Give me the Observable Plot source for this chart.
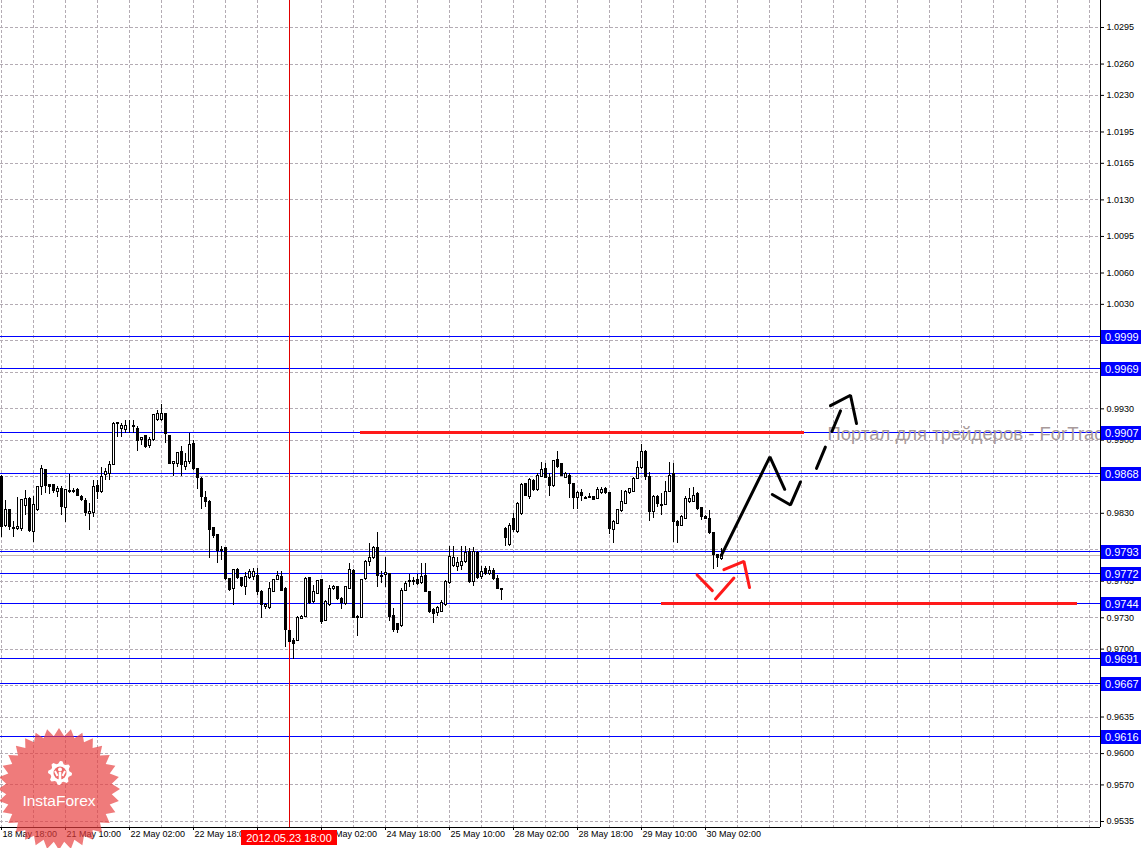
<!DOCTYPE html>
<html>
<head>
<meta charset="utf-8">
<script src="https://cdn.jsdelivr.net/npm/d3@7"></script>
<script src="https://cdn.jsdelivr.net/npm/@observablehq/plot@0.6"></script>
<style>
html, body { margin: 0; padding: 0; background: #ffffff; overflow: hidden; }
#chart { width: 1143px; height: 848px; overflow: hidden; }
#chart svg { max-width: none !important; }
</style>
</head>
<body>
<div id="chart"></div>
<script>
// ---------- DATA (H1 bars, 18 May 18:00 -> 30 May 06:00, 2012) ----------
const barOpen = [
0.9865,0.9818,0.9833,0.9815,0.9815,0.9815,0.9837,0.9844,0.9812,0.9833,
0.9855,0.9871,0.9857,0.9857,0.9850,0.9853,0.9835,0.9851,0.9850,0.9852,
0.9846,0.9842,0.9829,0.9830,0.9856,0.9850,0.9867,0.9868,0.9876,0.9915,
0.9911,0.9910,0.9914,0.9914,0.9911,0.9900,0.9904,0.9894,0.9900,0.9919,
0.9919,0.9925,0.9904,0.9877,0.9877,0.9889,0.9874,0.9879,0.9896,0.9872,
0.9863,0.9845,0.9841,0.9816,0.9809,0.9795,0.9797,0.9767,0.9758,0.9776,
0.9768,0.9759,0.9768,0.9769,0.9770,0.9755,0.9740,0.9739,0.9755,0.9766,
0.9769,0.9758,0.9717,0.9708,0.9708,0.9729,0.9731,0.9768,0.9745,0.9753,
0.9766,0.9727,0.9742,0.9758,0.9759,0.9748,0.9743,0.9758,0.9775,0.9730,
0.9730,0.9767,0.9783,0.9787,0.9797,0.9770,0.9771,0.9772,0.9732,0.9724,
0.9722,0.9756,0.9764,0.9765,0.9766,0.9763,0.9770,0.9755,0.9737,0.9735,
0.9736,0.9742,0.9763,0.9780,0.9779,0.9780,0.9783,0.9793,0.9764,0.9792,
0.9769,0.9777,0.9772,0.9775,0.9767,0.9758,0.9815,0.9800,0.9825,0.9812,
0.9829,0.9858,0.9846,0.9861,0.9852,0.9865,0.9872,0.9864,0.9856,0.9881,
0.9877,0.9864,0.9866,0.9858,0.9845,0.9849,0.9845,0.9845,0.9846,0.9844,
0.9849,0.9853,0.9849,0.9814,0.9820,0.9832,0.9839,0.9849,0.9850,0.9863,
0.9873,0.9889,0.9865,0.9831,0.9846,0.9838,0.9838,0.9850,0.9868,0.9822,
0.9818,0.9825,0.9841,0.9841,0.9848,0.9835,0.9826,0.9825,0.9811,0.9790,
0.9786];
const barHigh = [
0.9866,0.9842,0.9834,0.9822,0.9845,0.9843,0.9852,0.9845,0.9846,0.9856,
0.9876,0.9872,0.9857,0.9857,0.9856,0.9856,0.9853,0.9867,0.9854,0.9854,
0.9847,0.9844,0.9839,0.9861,0.9861,0.9874,0.9873,0.9880,0.9917,0.9917,
0.9916,0.9919,0.9919,0.9919,0.9913,0.9903,0.9904,0.9903,0.9925,0.9928,
0.9934,0.9926,0.9904,0.9880,0.9888,0.9894,0.9887,0.9906,0.9900,0.9872,
0.9864,0.9851,0.9842,0.9816,0.9809,0.9798,0.9797,0.9767,0.9776,0.9777,
0.9769,0.9773,0.9776,0.9777,0.9777,0.9756,0.9744,0.9764,0.9767,0.9774,
0.9774,0.9759,0.9718,0.9710,0.9731,0.9732,0.9769,0.9769,0.9761,0.9766,
0.9767,0.9747,0.9761,0.9761,0.9760,0.9749,0.9760,0.9782,0.9776,0.9732,
0.9767,0.9785,0.9801,0.9798,0.9812,0.9774,0.9788,0.9772,0.9739,0.9725,
0.9758,0.9765,0.9771,0.9769,0.9771,0.9782,0.9782,0.9755,0.9739,0.9741,
0.9747,0.9766,0.9798,0.9798,0.9788,0.9798,0.9798,0.9796,0.9797,0.9793,
0.9779,0.9779,0.9779,0.9777,0.9770,0.9758,0.9816,0.9820,0.9830,0.9840,
0.9859,0.9859,0.9863,0.9862,0.9868,0.9879,0.9878,0.9868,0.9881,0.9889,
0.9878,0.9869,0.9868,0.9859,0.9851,0.9853,0.9846,0.9849,0.9846,0.9855,
0.9855,0.9855,0.9850,0.9823,0.9834,0.9852,0.9852,0.9854,0.9864,0.9880,
0.9896,0.9890,0.9869,0.9847,0.9847,0.9849,0.9860,0.9879,0.9878,0.9823,
0.9828,0.9846,0.9854,0.9855,0.9850,0.9836,0.9828,0.9833,0.9811,0.9791,
0.9796];
const barLow = [
0.9807,0.9816,0.9814,0.9807,0.9814,0.9813,0.9828,0.9812,0.9802,0.9832,
0.9847,0.9849,0.9848,0.9849,0.9845,0.9828,0.9821,0.9849,0.9849,0.9846,
0.9841,0.9827,0.9814,0.9826,0.9843,0.9849,0.9861,0.9861,0.9876,0.9903,
0.9903,0.9906,0.9906,0.9906,0.9889,0.9895,0.9892,0.9892,0.9899,0.9918,
0.9918,0.9897,0.9877,0.9865,0.9874,0.9865,0.9871,0.9877,0.9871,0.9853,
0.9834,0.9836,0.9787,0.9806,0.9782,0.9785,0.9766,0.9755,0.9742,0.9767,
0.9759,0.9751,0.9767,0.9766,0.9751,0.9729,0.9738,0.9738,0.9754,0.9766,
0.9755,0.9702,0.9706,0.9690,0.9707,0.9728,0.9730,0.9743,0.9744,0.9752,
0.9724,0.9726,0.9741,0.9756,0.9747,0.9738,0.9742,0.9757,0.9729,0.9712,
0.9729,0.9766,0.9779,0.9786,0.9759,0.9763,0.9759,0.9726,0.9716,0.9715,
0.9721,0.9755,0.9759,0.9761,0.9761,0.9762,0.9754,0.9734,0.9725,0.9731,
0.9735,0.9741,0.9762,0.9778,0.9774,0.9775,0.9782,0.9763,0.9760,0.9767,
0.9767,0.9770,0.9770,0.9766,0.9757,0.9747,0.9798,0.9798,0.9812,0.9811,
0.9828,0.9846,0.9843,0.9851,0.9851,0.9865,0.9863,0.9846,0.9855,0.9873,
0.9865,0.9863,0.9844,0.9834,0.9834,0.9841,0.9843,0.9844,0.9842,0.9843,
0.9848,0.9848,0.9810,0.9801,0.9819,0.9831,0.9838,0.9848,0.9850,0.9862,
0.9872,0.9861,0.9822,0.9825,0.9836,0.9828,0.9838,0.9850,0.9802,0.9801,
0.9817,0.9824,0.9839,0.9840,0.9833,0.9823,0.9824,0.9810,0.9776,0.9778,
0.9785];
const barClose = [
0.9817,0.9833,0.9817,0.9816,0.9817,0.9843,0.9844,0.9813,0.9838,0.9855,
0.9872,0.9856,0.9855,0.9851,0.9853,0.9836,0.9852,0.9850,0.9851,0.9847,
0.9843,0.9830,0.9831,0.9855,0.9850,0.9865,0.9870,0.9876,0.9915,0.9916,
0.9914,0.9914,0.9914,0.9913,0.9899,0.9902,0.9893,0.9900,0.9924,0.9925,
0.9925,0.9906,0.9877,0.9879,0.9888,0.9876,0.9879,0.9895,0.9872,0.9864,
0.9846,0.9841,0.9814,0.9808,0.9794,0.9794,0.9767,0.9757,0.9776,0.9768,
0.9760,0.9769,0.9774,0.9774,0.9755,0.9742,0.9742,0.9758,0.9766,0.9770,
0.9756,0.9718,0.9707,0.9705,0.9730,0.9731,0.9767,0.9744,0.9755,0.9765,
0.9726,0.9745,0.9758,0.9759,0.9748,0.9744,0.9759,0.9776,0.9730,0.9731,
0.9766,0.9783,0.9787,0.9797,0.9770,0.9769,0.9773,0.9731,0.9718,0.9718,
0.9756,0.9762,0.9765,0.9764,0.9762,0.9769,0.9755,0.9736,0.9734,0.9739,
0.9744,0.9764,0.9788,0.9787,0.9782,0.9783,0.9792,0.9764,0.9793,0.9768,
0.9774,0.9772,0.9775,0.9767,0.9758,0.9757,0.9806,0.9818,0.9814,0.9839,
0.9857,0.9847,0.9862,0.9852,0.9866,0.9871,0.9864,0.9856,0.9880,0.9874,
0.9866,0.9868,0.9858,0.9845,0.9849,0.9847,0.9844,0.9846,0.9843,0.9852,
0.9852,0.9849,0.9815,0.9822,0.9833,0.9841,0.9850,0.9853,0.9863,0.9873,
0.9889,0.9865,0.9831,0.9846,0.9839,0.9837,0.9850,0.9866,0.9822,0.9818,
0.9826,0.9844,0.9844,0.9847,0.9834,0.9826,0.9825,0.9811,0.9790,0.9787,
0.9790];

// time axis: one bar per hour, a label every 16 bars
const xTickBars = [0, 16, 32, 48, 64, 80, 96, 112, 128, 144, 160, 176];
const xTickLabels = ["18 May 18:00", "21 May 10:00", "22 May 02:00", "22 May 18:00",
  "23 May 10:00", "24 May 02:00", "24 May 18:00", "25 May 10:00",
  "28 May 02:00", "28 May 18:00", "29 May 10:00", "30 May 02:00"];
const xGridBars = [0,8,16,24,32,40,48,56,64,72,80,88,96,104,112,120,128,136,144,152,160,
  168,176,184,192,200,208,216,224,232,240,248,256,264,272];

// price axis
const yTicks = [1.0295, 1.0260, 1.0230, 1.0195, 1.0165, 1.0130, 1.0095, 1.0060, 1.0030,
  0.9995, 0.9965, 0.9930, 0.9900, 0.9865, 0.9830, 0.9795, 0.9765, 0.9730, 0.9700,
  0.9665, 0.9635, 0.9600, 0.9570, 0.9535];

// horizontal levels (blue lines with labels)
const levelPrices = [0.9999, 0.9969, 0.9907, 0.9868, 0.9793, 0.9772, 0.9744, 0.9691, 0.9667, 0.9616];
const bidPrice = 0.9790;

// red zone lines
const zonePrices = [0.9907, 0.9744];
const zoneFromBar = [89.75, 165];
const zoneToBar = [200.75, 268.9];

// vertical marker
const markerBar = 72;
const markerLabel = "2012.05.23 18:00";

// hand-drawn forecast strokes (bar index, price)
const strokeGroup = ["up","up","up", "v","v","v", "dash","dash", "head","head","head",
  "r1","r1", "r2","r2", "rh","rh","rh"];
const strokeBar = [180, 192.1, 195.8, 192.7, 197.25, 199.75, 203.75, 209.75, 207.25, 212.25, 213.75,
  173.9, 177.7, 178.5, 183.1, 180.6, 185.6, 187.0];
const strokePrice = [0.9790, 0.9884, 0.9853, 0.9848, 0.9838, 0.9860, 0.9873, 0.9928, 0.9933, 0.9943, 0.9916,
  0.9771, 0.9756, 0.9748, 0.9768, 0.9776, 0.9784, 0.9759];

const watermark = "Портал для трейдеров - ForTrader.ru";
const watermarkBar = 206.5;
const watermarkPrice = 0.9906;

// ---------- BUILD ----------
const bars = barOpen.map((o, i) => ({ i, open: o, high: barHigh[i], low: barLow[i], close: barClose[i] }));
// labels hidden entirely behind the marker's date box are not drawn
const xTicksData = xTickBars.map((b, k) => ({ b, label: xTickLabels[k] }))
  .filter(d => !(d.b > markerBar - 12 && d.b < markerBar + 4));
const zones = zonePrices.map((p, k) => ({ p, x1: zoneFromBar[k], x2: zoneToBar[k] }));
const strokes = strokeBar.map((b, k) => ({ g: strokeGroup[k], b, p: strokePrice[k] }));
const blackSolid = strokes.filter(d => d.g === "up" || d.g === "v" || d.g === "head");
const blackDash = strokes.filter(d => d.g === "dash");
const redStrokes = strokes.filter(d => d.g[0] === "r");

const xDomain = [-0.25, 274.75];
const yDomain = [0.952926, 1.032084];
const gridColor = "#b4acb4";
const FONT = "'Liberation Sans', Arial, sans-serif";

const chart = Plot.plot({
  width: 1143,
  height: 848,
  marginLeft: 0,
  marginRight: 43,
  marginTop: 0,
  marginBottom: 21,
  style: { fontFamily: FONT, fontSize: "9px", background: "#ffffff", color: "#000", maxWidth: "none" },
  x: { domain: xDomain, axis: "bottom", ticks: xTickBars, tickFormat: () => "", tickSize: 3, label: null },
  y: { domain: yDomain, axis: "right", ticks: yTicks,
       tickFormat: d => levelPrices.some(l => Math.abs(l - d) < 0.0005) ? "" : d.toFixed(4),
       tickSize: 3, tickPadding: 3, label: null },
  marks: [
    Plot.ruleY(yTicks, { stroke: gridColor, strokeDasharray: "3,2", shapeRendering: "crispEdges" }),
    Plot.ruleX(xGridBars, { stroke: gridColor, strokeDasharray: "3,2", shapeRendering: "crispEdges" }),
    Plot.ruleY(levelPrices, { stroke: "#0000ff", shapeRendering: "crispEdges" }),
    Plot.ruleY([bidPrice], { stroke: "#c8b8b0", shapeRendering: "crispEdges" }),
    Plot.ruleX([markerBar], { stroke: "#e00000", shapeRendering: "crispEdges" }),
    Plot.ruleY(zones, { y: "p", x1: "x1", x2: "x2", stroke: "#ff1a1a", strokeWidth: 3, shapeRendering: "crispEdges" }),
    Plot.text([watermark], { x: watermarkBar, y: watermarkPrice, text: d => d, textAnchor: "start",
      fill: "#a89a9a", fontSize: 18.5, clip: true }),
    Plot.ruleX(bars, { x: "i", y1: "low", y2: "high", stroke: "#000", shapeRendering: "crispEdges" }),
    Plot.rect(bars, { x1: d => d.i - 0.25, x2: d => d.i + 0.25, y1: "open", y2: "close",
      fill: d => d.close > d.open ? "#ffffff" : "#000000", stroke: "#000", strokeWidth: 1, shapeRendering: "crispEdges" }),
    Plot.line(blackSolid, { x: "b", y: "p", z: "g", stroke: "#000", strokeWidth: 3, strokeLinejoin: "miter" }),
    Plot.line(blackDash, { x: "b", y: "p", stroke: "#000", strokeWidth: 3, strokeDasharray: "23,17" }),
    Plot.line(redStrokes, { x: "b", y: "p", z: "g", stroke: "#ff1a1a", strokeWidth: 3, strokeLinejoin: "miter" }),
    Plot.ruleX([xDomain[1]], { stroke: "#000", shapeRendering: "crispEdges" }),
    Plot.ruleY([yDomain[0]], { stroke: "#000", shapeRendering: "crispEdges" }),
    Plot.text(xTicksData, { x: "b", text: "label", frameAnchor: "bottom", dy: 9, dx: 1, textAnchor: "start", fill: "#000", fontSize: 9 })
  ]
});

document.getElementById("chart").appendChild(chart);

// ---------- overlays positioned with the plot's own scales ----------
const sx = chart.scale("x");
const sy = chart.scale("y");
const svg = d3.select(chart);

// price level labels on the right axis
const lab = svg.append("g").attr("text-anchor", "start");
levelPrices.forEach(p => {
  const y = Math.round(sy.apply(p));
  lab.append("rect").attr("x", 1101).attr("y", y - 6).attr("width", 40).attr("height", 14).attr("fill", "#0000ff");
  lab.append("text").attr("x", 1105).attr("y", y + 5).attr("fill", "#ffffff").attr("text-anchor", "start")
    .attr("font-family", FONT).attr("font-size", 11).text(p.toFixed(4));
});

// vertical marker date label
const mx = sx.apply(markerBar);
svg.append("rect").attr("x", mx - 48).attr("y", 830).attr("width", 96).attr("height", 15).attr("fill", "#ff0000");
svg.append("text").attr("x", mx).attr("y", 842).attr("text-anchor", "middle").attr("fill", "#fff")
  .attr("font-family", FONT).attr("font-size", 11).text(markerLabel);

// InstaForex badge
const logo = svg.append("g").attr("transform", "translate(59,789)");
const n = 32, R = 61, r = 53;
const pts = d3.range(2 * n).map(k => {
  const a = k * Math.PI / n - Math.PI / 2;
  const rr = k % 2 ? r : R;
  return [rr * Math.cos(a), rr * Math.sin(a)];
});
logo.append("polygon").attr("points", pts.map(p => p.join(",")).join(" ")).attr("fill", "#e83c3c").attr("fill-opacity", 0.68);
const gear = logo.append("g").attr("transform", "translate(1,-16)");
const gn = 8;
const gpts = [];
for (let k = 0; k < gn * 4; k++) {
  const a = k * Math.PI * 2 / (gn * 4) - Math.PI / 2;
  const rr = (Math.floor(k / 2) % 2 === 0) ? 12 : 9.5;
  gpts.push([rr * Math.cos(a), rr * Math.sin(a)]);
}
gear.append("polygon").attr("points", gpts.map(p => p.join(",")).join(" ")).attr("fill", "#fff");
gear.append("circle").attr("r", 6.5).attr("fill", "#ee6a6a");
gear.append("circle").attr("cx", 0).attr("cy", -3.5).attr("r", 2).attr("fill", "#fff");
gear.append("rect").attr("x", -1.3).attr("y", -1).attr("width", 2.6).attr("height", 12).attr("fill", "#fff");
gear.append("path").attr("d", "M-5,-2 L-2.5,3 M5,-2 L2.5,3").attr("stroke", "#fff").attr("stroke-width", 2).attr("fill", "none");
logo.append("text").attr("x", 0).attr("y", 17).attr("text-anchor", "middle").attr("fill", "#fff")
  .attr("font-family", FONT).attr("font-size", 15.5).text("InstaForex");
</script>
</body>
</html>
